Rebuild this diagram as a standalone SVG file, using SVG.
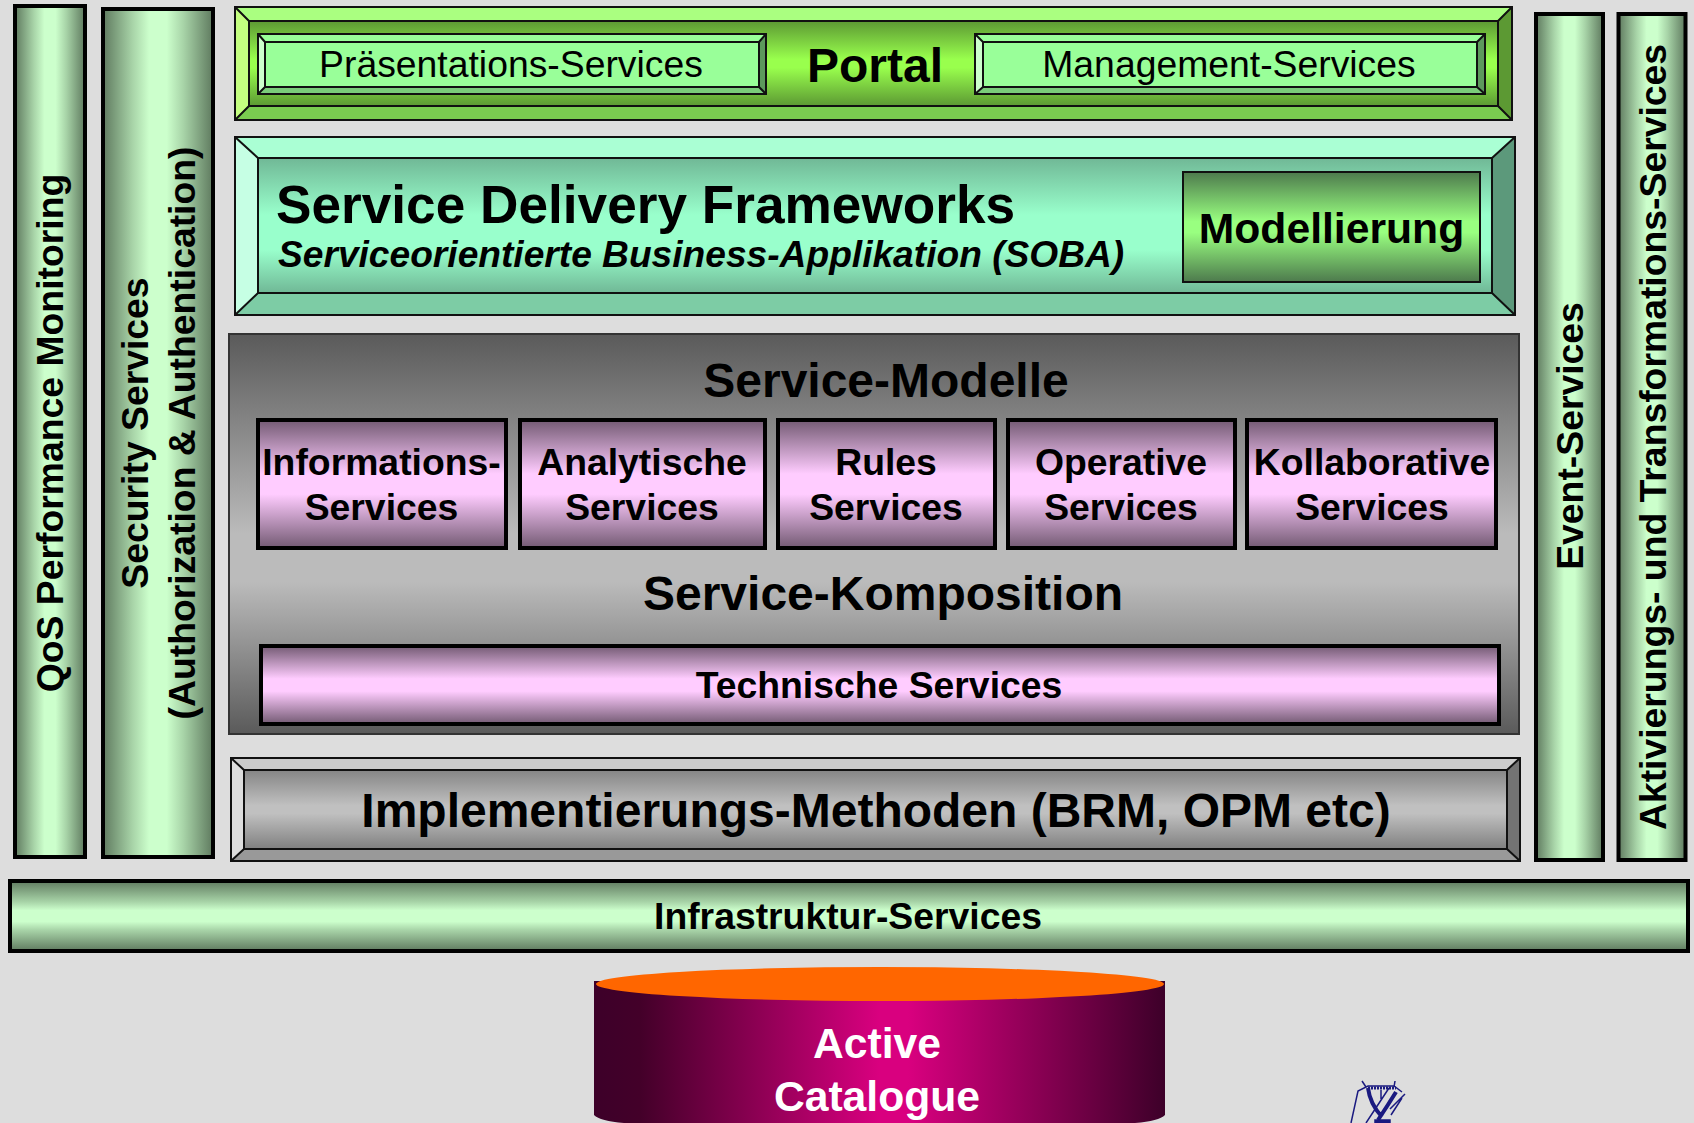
<svg xmlns="http://www.w3.org/2000/svg" width="1694" height="1123" viewBox="0 0 1694 1123">
<defs>
<linearGradient id="gH" x1="0" y1="0" x2="1" y2="0"><stop offset="0" stop-color="#5f7a5f"/><stop offset=".27" stop-color="#a8d4a8"/><stop offset=".42" stop-color="#ccffcc"/><stop offset=".58" stop-color="#ccffcc"/><stop offset=".73" stop-color="#a8d4a8"/><stop offset="1" stop-color="#5f7a5f"/></linearGradient>
<linearGradient id="gV" x1="0" y1="0" x2="0" y2="1"><stop offset="0" stop-color="#5f7a5f"/><stop offset=".3" stop-color="#a8d4a8"/><stop offset=".42" stop-color="#ccffcc"/><stop offset=".58" stop-color="#ccffcc"/><stop offset=".7" stop-color="#a8d4a8"/><stop offset="1" stop-color="#5f7a5f"/></linearGradient>
<linearGradient id="gPortal" x1="0" y1="0" x2="0" y2="1"><stop offset="0" stop-color="#5c9933"/><stop offset=".45" stop-color="#99ff4d"/><stop offset=".55" stop-color="#99ff4d"/><stop offset="1" stop-color="#5c9933"/></linearGradient>
<linearGradient id="gSdf" x1="0" y1="0" x2="0" y2="1"><stop offset="0" stop-color="#70b896"/><stop offset=".42" stop-color="#99ffcc"/><stop offset=".68" stop-color="#99ffcc"/><stop offset="1" stop-color="#70b896"/></linearGradient>
<linearGradient id="gMod" x1="0" y1="0" x2="0" y2="1"><stop offset="0" stop-color="#4d7a4d"/><stop offset=".45" stop-color="#99ff80"/><stop offset=".55" stop-color="#99ff80"/><stop offset="1" stop-color="#4d7a4d"/></linearGradient>
<linearGradient id="gGrey" x1="0" y1="0" x2="0" y2="1"><stop offset="0" stop-color="#5a5a5a"/><stop offset=".5" stop-color="#bbbbbb"/><stop offset=".62" stop-color="#bbbbbb"/><stop offset="1" stop-color="#5a5a5a"/></linearGradient>
<linearGradient id="gImpl" x1="0" y1="0" x2="0" y2="1"><stop offset="0" stop-color="#858585"/><stop offset=".45" stop-color="#c0c0c0"/><stop offset=".55" stop-color="#c0c0c0"/><stop offset="1" stop-color="#808080"/></linearGradient>
<linearGradient id="gPurple" x1="0" y1="0" x2="0" y2="1"><stop offset="0" stop-color="#735a73"/><stop offset=".42" stop-color="#ffccff"/><stop offset=".58" stop-color="#ffccff"/><stop offset="1" stop-color="#735a73"/></linearGradient>
<linearGradient id="gCyl" x1="0" y1="0" x2="1" y2="0"><stop offset="0" stop-color="#3d0029"/><stop offset=".08" stop-color="#430029"/><stop offset=".5" stop-color="#d9007f"/><stop offset=".55" stop-color="#d9007f"/><stop offset="1" stop-color="#3d0029"/></linearGradient>
</defs>
<style>
text{font-family:"Liberation Sans",Arial,sans-serif;font-weight:700;fill:#000;text-anchor:middle}
.b{stroke:#000;stroke-width:4}
.l{stroke:#111;stroke-width:2;stroke-linejoin:miter}
.f37{font-size:37.33px}
.f43{font-size:42.67px}
.f48{font-size:48px}
.r{font-size:37.33px;font-weight:400}
</style>
<rect width="1694" height="1123" fill="#dddddd"/>

<g id="qos"><rect class="b" x="15" y="6" width="70" height="851" fill="url(#gH)"/><text class="f37" transform="translate(63 433) rotate(-90)">QoS Performance Monitoring</text></g>
<g id="security"><rect class="b" x="103" y="9" width="110" height="848" fill="url(#gH)"/><text class="f37" transform="translate(148 433) rotate(-90)">Security Services</text><text class="f37" transform="translate(194.500 433) rotate(-90)">(Authorization &amp; Authentication)</text></g>

<g id="portal">
<rect x="234.500" y="7" width="1278" height="114" fill="#5c9933"/>
<polygon points="235,7 1512,7 1498,21 249,21" fill="#aaff80"/>
<polygon points="235,7 249,21 249,106 235,120" fill="#c4ff80"/>
<polygon points="235,120 249,106 1498,106 1512,120" fill="#7acc50"/>
<polygon points="1512,7 1498,21 1498,106 1512,120" fill="#5c9933"/>
<rect class="l" x="249" y="21" width="1249" height="85" fill="url(#gPortal)"/>
<rect class="l" x="235" y="7" width="1277" height="113" fill="none"/>
<path class="l" d="M235 7L249 21M1512 7L1498 21M235 120L249 106M1512 120L1498 106" fill="none"/>
<text x="875" y="82" class="f48">Portal</text>
</g>
<g id="praesentation">
<rect x="258" y="34" width="508" height="60" fill="#5c995c"/>
<polygon points="258,34 766,34 759,42 265,42" fill="#99ff99"/>
<polygon points="258,34 265,42 265,87 258,94" fill="#ccffcc"/>
<polygon points="258,94 265,87 759,87 766,94" fill="#7acc7a"/>
<rect class="l" x="265" y="42" width="494" height="45" fill="#99ff99"/>
<rect class="l" x="258" y="34" width="508" height="60" fill="none"/>
<path class="l" d="M258 34L265 42M766 34L759 42M258 94L265 87M766 94L759 87" fill="none"/>
<text x="511" y="77" class="r">Präsentations-Services</text>
</g>
<g id="management">
<rect x="975" y="34" width="510" height="60" fill="#5c995c"/>
<polygon points="975,34 1485,34 1477,42 983,42" fill="#99ff99"/>
<polygon points="975,34 983,42 983,87 975,94" fill="#ccffcc"/>
<polygon points="975,94 983,87 1477,87 1485,94" fill="#7acc7a"/>
<rect class="l" x="983" y="42" width="494" height="45" fill="#99ff99"/>
<rect class="l" x="975" y="34" width="510" height="60" fill="none"/>
<path class="l" d="M975 34L983 42M1485 34L1477 42M975 94L983 87M1485 94L1477 87" fill="none"/>
<text x="1229" y="77" class="r">Management-Services</text>
</g>

<g id="service-delivery">
<polygon points="235,137 1515,137 1492,158 258,158" fill="#aaffd4"/>
<polygon points="235,137 258,158 258,293 235,315" fill="#c6ffe4"/>
<polygon points="235,315 258,293 1492,293 1515,315" fill="#7dcca5"/>
<polygon points="1515,137 1492,158 1492,293 1515,315" fill="#5c997b"/>
<rect class="l" x="258" y="158" width="1234" height="135" fill="url(#gSdf)"/>
<rect class="l" x="235" y="137" width="1280" height="178" fill="none"/>
<path class="l" d="M235 137L258 158M1515 137L1492 158M235 315L258 293M1515 315L1492 293" fill="none"/>
<text x="276" y="223" style="font-size:53.2px;text-anchor:start">Service Delivery Frameworks</text>
<text x="278" y="267" style="font-size:37.15px;font-style:italic;text-anchor:start">Serviceorientierte Business-Applikation (SOBA)</text>
</g>
<g id="modellierung"><rect class="l" x="1183" y="172" width="297" height="110" fill="url(#gMod)"/><text x="1331.500" y="243" class="f43">Modellierung</text></g>

<g id="service-modelle">
<rect x="229" y="334" width="1290" height="400" fill="url(#gGrey)" stroke="#333" stroke-width="2"/>
<text x="886" y="396.500" class="f48">Service-Modelle</text>
<text x="883" y="609.500" class="f48">Service-Komposition</text>
</g>
<g id="informations"><rect class="b" x="258" y="420" width="248" height="128" fill="url(#gPurple)"/><text x="381.500" y="475" class="f37">Informations-</text><text x="381.500" y="519.500" class="f37">Services</text></g>
<g id="analytische"><rect class="b" x="520" y="420" width="245" height="128" fill="url(#gPurple)"/><text x="642" y="475" class="f37">Analytische</text><text x="642" y="519.500" class="f37">Services</text></g>
<g id="rules"><rect class="b" x="778" y="420" width="217" height="128" fill="url(#gPurple)"/><text x="886" y="475" class="f37">Rules</text><text x="886" y="519.500" class="f37">Services</text></g>
<g id="operative"><rect class="b" x="1008" y="420" width="227" height="128" fill="url(#gPurple)"/><text x="1121" y="475" class="f37">Operative</text><text x="1121" y="519.500" class="f37">Services</text></g>
<g id="kollaborative"><rect class="b" x="1247" y="420" width="249" height="128" fill="url(#gPurple)"/><text x="1372" y="475" class="f37">Kollaborative</text><text x="1372" y="519.500" class="f37">Services</text></g>
<g id="technische"><rect class="b" x="261" y="646" width="1238" height="78" fill="url(#gPurple)"/><text x="879" y="698" class="f37">Technische Services</text></g>

<g id="implementierung">
<polygon points="231,758 1520,758 1507,770 244,770" fill="#cccccc"/>
<polygon points="231,758 244,770 244,849 231,861" fill="#dddddd"/>
<polygon points="231,861 244,849 1507,849 1520,861" fill="#999999"/>
<polygon points="1520,758 1507,770 1507,849 1520,861" fill="#737373"/>
<rect class="l" x="244" y="770" width="1263" height="79" fill="url(#gImpl)"/>
<rect class="l" x="231" y="758" width="1289" height="103" fill="none"/>
<path class="l" d="M231 758L244 770M1520 758L1507 770M231 861L244 849M1520 861L1507 849" fill="none"/>
<text x="876" y="827" class="f48">Implementierungs-Methoden (BRM, OPM etc)</text>
</g>

<g id="event"><rect class="b" x="1536" y="14" width="67" height="846" fill="url(#gH)"/><text class="f37" transform="translate(1582.500 436) rotate(-90)">Event-Services</text></g>
<g id="aktivierung"><rect class="b" x="1618.500" y="14" width="67" height="846" fill="url(#gH)"/><text class="f37" transform="translate(1665.500 437) rotate(-90)">Aktivierungs- und Transformations-Services</text></g>

<g id="infrastruktur"><rect class="b" x="10" y="881" width="1678" height="70" fill="url(#gV)"/><text x="848" y="929" class="f37">Infrastruktur-Services</text></g>

<g id="active-catalogue">
<path d="M594 981H1165V1115Q1159 1121 1135 1123H624Q600 1121 594 1115Z" fill="url(#gCyl)"/>
<ellipse cx="880" cy="984" rx="284" ry="17" fill="#ff6600"/>
<text x="877" y="1058" class="f43" style="fill:#fff">Active</text>
<text x="877" y="1111" class="f43" style="fill:#fff">Catalogue</text>
</g>

<g id="tower" fill="none" stroke="#1a1a80" stroke-width="1.500">
<path d="M1351 1123L1358 1091L1368 1086H1394L1402 1092M1362 1081L1366 1087M1394 1087L1395 1081M1402 1098L1391 1115M1389 1088L1366 1123M1405 1094L1390 1109M1381 1090V1099"/>
<path d="M1368 1088Q1370 1104 1382 1117M1396 1092Q1388 1105 1378 1120" stroke-width="4"/>
<path d="M1368 1088H1396" stroke-width="3" stroke-dasharray="2 1"/>
<path d="M1375 1120H1390V1123H1375Z" fill="#1a1a80"/>
</g>
</svg>
